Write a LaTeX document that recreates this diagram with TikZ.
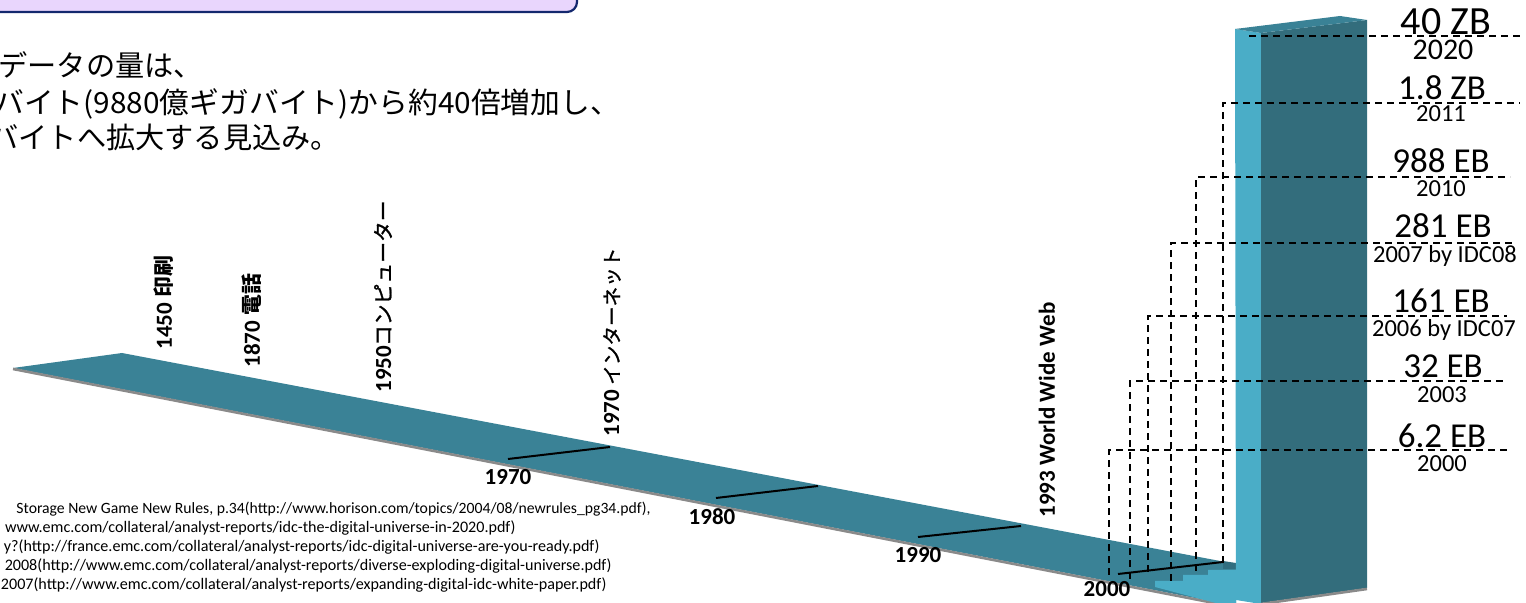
\documentclass[tikz,border=0pt]{standalone}
\usepackage{fontspec}
\setmainfont{Carlito}
\newfontfamily\jp{Noto Sans CJK JP}
\newfontfamily\jpm{Noto Sans CJK JP}[FakeBold=1.2]
\definecolor{bandc}{RGB}{58,130,150}
\definecolor{coldark}{RGB}{51,109,124}
\definecolor{collight}{RGB}{74,173,199}
\definecolor{boxfill}{RGB}{233,214,253}
\definecolor{boxline}{RGB}{20,40,110}
\definecolor{edgegray}{RGB}{138,138,138}
\begin{document}
\begin{tikzpicture}[x=0.5pt,y=-0.5pt,
  lvl/.style={dash pattern=on 3.5pt off 2.5pt, line width=0.9pt},
  tickln/.style={line width=1pt},
  yearlab/.style={inner sep=0, font=\fontsize{11.5pt}{13pt}\selectfont\bfseries},
  evlab/.style={rotate=90, anchor=west, inner sep=0, font=\fontsize{11.5pt}{13pt}\selectfont\bfseries},
  biglab/.style={anchor=base, inner sep=0, font=\fontsize{17.5pt}{20pt}\selectfont},
  sublab/.style={anchor=base, inner sep=0, font=\fontsize{12.25pt}{14pt}\selectfont},
  body/.style={anchor=base west, inner sep=0, font=\jp\fontsize{14.6pt}{17pt}\selectfont},
  reftxt/.style={anchor=base east, inner sep=0, font=\fontsize{8.05pt}{9pt}\selectfont}]
\newcommand{\jplab}[2][10.4pt]{{\jp\fontsize{#1}{12pt}\selectfont #2}}
\newcommand{\jpmlab}[2][10.4pt]{{\jpm\mdseries\fontsize{#1}{12pt}\selectfont #2}}
\useasboundingbox (0,0) rectangle (1526,603);
\clip (0,0) rectangle (1526,603);
% top box
\draw[fill=boxfill, draw=boxline, line width=1.1pt, rounded corners=5pt] (-40,-40) rectangle (577,12);
% body text
\node[body] (t1) at (-2,77) {データの量は、};
\node[body] (t2) at (-6,114) {\scalebox{1.02}[1]{バイト(9880億ギガバイト)から約40倍増加し、}};
\node[body] (t3) at (-11,149) {バイトへ拡大する見込み。};
% references
\node[reftxt, font=\fontsize{7.85pt}{9pt}\selectfont] (r1) at (651,514) {Storage New Game New Rules, p.34(http://www.horison.com/topics/2004/08/newrules\_pg34.pdf),};
\node[reftxt] (r2) at (516,533) {www.emc.com/collateral/analyst-reports/idc-the-digital-universe-in-2020.pdf)};
\node[reftxt] (r3) at (600,552) {y?(http://france.emc.com/collateral/analyst-reports/idc-digital-universe-are-you-ready.pdf)};
\node[reftxt] (r4) at (612,571) {2008(http://www.emc.com/collateral/analyst-reports/diverse-exploding-digital-universe.pdf)};
\node[reftxt] (r5) at (607,590) {2007(http://www.emc.com/collateral/analyst-reports/expanding-digital-idc-white-paper.pdf)};
% band
\fill[bandc] (13,368) -- (122,353) -- (1236,564) -- (1236,606) -- cycle;
\draw[edgegray, line width=1.3pt] (13,369) -- (1250,610);
% steps
\fill[collight] (1155,587) -- (1155,581) -- (1183,581) -- (1183,575) -- (1208,575) -- (1208,570) -- (1236,570) -- (1236,606) -- (1261,606) -- (1261,612) -- (1250,612) -- cycle;
\fill[bandc!85!black] (1223,561) -- (1236,563) -- (1236,569) -- (1223,569) -- cycle;
% column
\fill[collight] (1235,29) -- (1261,33) -- (1261,604) -- (1236,600) -- cycle;
\fill[coldark] (1261,33) -- (1367,20) -- (1367,588) -- (1261,603) -- cycle;
\fill[bandc] (1235,29) -- (1340,16) -- (1367,20) -- (1261,33) -- cycle;
\draw[edgegray, line width=1.3pt] (1261,604) -- (1367,589);
% ticks
\coordinate (a1) at (508,459); \coordinate (b1) at (610,447);
\coordinate (a2) at (716,498); \coordinate (b2) at (818,486);
\coordinate (a3) at (918,537); \coordinate (b3) at (1021,526);
\coordinate (a4) at (1118,574); \coordinate (b4) at (1223,562);
\draw[tickln] (a1) -- (b1);
\draw[tickln] (a2) -- (b2);
\draw[tickln] (a3) -- (b3);
\draw[tickln] (a4) -- (b4);
\node[yearlab] (y1970) at (508,477) {1970};
\node[yearlab] (y1980) at (712,517) {1980};
\node[yearlab] (y1990) at (918,555) {1990};
\node[yearlab] (y2000) at (1107,589) {2000};
% events
\node[evlab] (e1) at (164,350) {1450 \jplab{\bfseries 印刷}};
\node[evlab] (e2) at (252,368) {1870 \jplab{\bfseries 電話}};
\node[evlab] (e3) at (383,393) {1950\jpmlab{コンピューター}};
\node[evlab] (e4) at (612,437) {1970 \jpmlab[9.8pt]{インターネット}};
\node[evlab] (e5) at (1047,518) {1993 World Wide Web};
% dashed level lines
\coordinate (c0) at (1249,36);   \coordinate (d0) at (1522,36);
\coordinate (c1) at (1223,103);  \coordinate (d1) at (1520,103);  \coordinate (f1) at (1223,563);
\coordinate (c2) at (1196,177);  \coordinate (d2) at (1510,177);  \coordinate (f2) at (1196,571);
\coordinate (c3) at (1171,243);  \coordinate (d3) at (1512,243);  \coordinate (f3) at (1171,581);
\coordinate (c4) at (1148,316);  \coordinate (d4) at (1507,316);  \coordinate (f4) at (1148,572);
\coordinate (c5) at (1130,381);  \coordinate (d5) at (1505,381);  \coordinate (f5) at (1130,579);
\coordinate (c6) at (1109,450);  \coordinate (d6) at (1507,450);  \coordinate (f6) at (1109,575);
\draw[lvl] (c0) -- (d0);
\draw[lvl] (f1) -- (c1) -- (d1);
\draw[lvl] (f2) -- (c2) -- (d2);
\draw[lvl] (f3) -- (c3) -- (d3);
\draw[lvl] (f4) -- (c4) -- (d4);
\draw[lvl] (f5) -- (c5) -- (d5);
\draw[lvl] (f6) -- (c6) -- (d6);
% value labels
\node[biglab, font=\fontsize{20pt}{22pt}\selectfont] (v0) at (1446,35) {40 ZB};
\node[sublab, font=\fontsize{15pt}{17pt}\selectfont] (s0) at (1443,60) {2020};
\node[biglab] (v1) at (1442,100) {1.8 ZB};
\node[sublab] (s1) at (1441,122) {2011};
\node[biglab] (v2) at (1441,173) {988 EB};
\node[sublab] (s2) at (1441,197) {2010};
\node[biglab] (v3) at (1443,238) {281 EB};
\node[sublab] (s3) at (1445,263) {2007 by IDC08};
\node[biglab] (v4) at (1441,313) {161 EB};
\node[sublab] (s4) at (1444,337) {2006 by IDC07};
\node[biglab] (v5) at (1443,378) {32 EB};
\node[sublab] (s5) at (1442,403) {2003};
\node[biglab] (v6) at (1442,448) {6.2 EB};
\node[sublab] (s6) at (1442,472) {2000};
\end{tikzpicture}
\end{document}
